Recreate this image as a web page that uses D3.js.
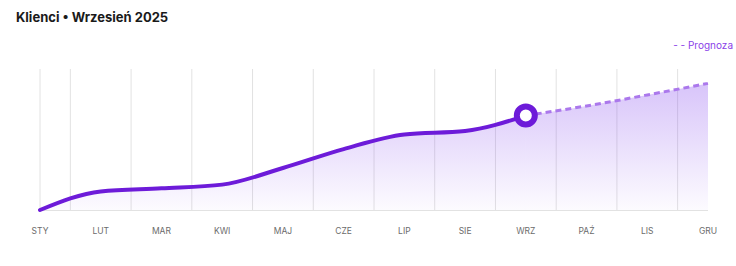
<!DOCTYPE html>
<html>
<head>
<meta charset="utf-8">
<script src="https://cdn.jsdelivr.net/npm/d3@7"></script>
<style>
  body { margin: 0; background: #fff; }
  svg { display: block; font-family: Inter, "Noto Sans", sans-serif; }
  .title { font-size: 13px; font-weight: 700; fill: #1a1a1a; }
  .month { font-size: 8.5px; fill: #6b6b6b; }
  .legend { font-size: 10px; fill: #8a3ee8; }
</style>
</head>
<body>
<div id="chart-area"></div>
<script>
// Months on the x axis
var months = ["STY", "LUT", "MAR", "KWI", "MAJ", "CZE", "LIP", "SIE", "WRZ", "PAŹ", "LIS", "GRU"];
// Actual clients (Jan - Sep)
var actual = [1000, 1066, 1077, 1090, 1149, 1216, 1268, 1280, 1335];
// Forecast (Sep - Dec), starts at the last actual value
var forecastMonths = ["WRZ", "PAŹ", "LIS", "GRU"];
var forecast = [1335, 1369, 1408, 1449];
var yDomain = [1000, 1500];

var width = 736, height = 266;
var margin = {top: 69, right: 28, bottom: 56, left: 40};
var innerW = width - margin.left - margin.right,
    innerH = height - margin.top - margin.bottom;

var svg = d3.select("#chart-area")
    .append("svg")
    .attr("width", width)
    .attr("height", height);

// Title
svg.append("text")
    .attr("class", "title")
    .attr("x", 16)
    .attr("y", 22)
    .text("Klienci • Wrzesień 2025");

// Legend
svg.append("text")
    .attr("class", "legend")
    .attr("x", 733)
    .attr("y", 49)
    .attr("text-anchor", "end")
    .text("- - Prognoza");

var g = svg.append("g")
    .attr("transform", "translate(" + margin.left + "," + margin.top + ")");

var x = d3.scalePoint()
    .domain(months)
    .range([0, innerW]);

var y = d3.scaleLinear()
    .domain(yDomain)
    .range([innerH, 0]);

var step = x.step();

// Gradient for area fill
var defs = svg.append("defs");
var grad = defs.append("linearGradient")
    .attr("id", "area-grad")
    .attr("gradientUnits", "userSpaceOnUse")
    .attr("x1", 0).attr("y1", 0)
    .attr("x2", 0).attr("y2", innerH);
grad.append("stop").attr("offset", "0%").attr("stop-color", "#7c3aed").attr("stop-opacity", 0.33);
grad.append("stop").attr("offset", "100%").attr("stop-color", "#7c3aed").attr("stop-opacity", 0.02);

// Vertical grid lines: left edge plus midpoints between months
var gridX = [0].concat(months.slice(0, -1).map(function(m) { return x(m) + step / 2; }));
g.selectAll(".grid")
    .data(gridX)
    .enter()
    .append("line")
    .attr("x1", function(d) { return d; })
    .attr("x2", function(d) { return d; })
    .attr("y1", 0)
    .attr("y2", innerH)
    .attr("stroke", "#e2e2e2")
    .attr("stroke-width", 1);

var actualData = actual.map(function(v, i) { return {m: months[i], v: v}; });
var forecastData = forecast.map(function(v, i) { return {m: forecastMonths[i], v: v}; });

var area = d3.area()
    .x(function(d) { return x(d.m); })
    .y0(innerH)
    .y1(function(d) { return y(d.v); })
    .curve(d3.curveMonotoneX);

var line = d3.line()
    .x(function(d) { return x(d.m); })
    .y(function(d) { return y(d.v); })
    .curve(d3.curveMonotoneX);

g.append("path")
    .datum(actualData)
    .attr("d", area)
    .attr("fill", "url(#area-grad)");

g.append("path")
    .datum(forecastData)
    .attr("d", area)
    .attr("fill", "url(#area-grad)");

// Baseline
g.append("line")
    .attr("x1", 0)
    .attr("x2", innerW)
    .attr("y1", innerH + 0.5)
    .attr("y2", innerH + 0.5)
    .attr("stroke", "#e2e2e2");

// Forecast dashed line
g.append("path")
    .datum(forecastData)
    .attr("d", line)
    .attr("fill", "none")
    .attr("stroke", "#ab78ec")
    .attr("stroke-width", 3)
    .attr("stroke-dasharray", "6,4");

// Actual line
g.append("path")
    .datum(actualData)
    .attr("d", line)
    .attr("fill", "none")
    .attr("stroke", "#6d1bd9")
    .attr("stroke-width", 4)
    .attr("stroke-linecap", "round");

// Current month marker
var last = actualData[actualData.length - 1];
g.append("circle")
    .attr("cx", x(last.m))
    .attr("cy", y(last.v))
    .attr("r", 9)
    .attr("fill", "#fff")
    .attr("stroke", "#6d1bd9")
    .attr("stroke-width", 6);

// Month labels
g.selectAll(".month")
    .data(months)
    .enter()
    .append("text")
    .attr("class", "month")
    .attr("x", function(d) { return x(d); })
    .attr("y", innerH + 24)
    .attr("text-anchor", "middle")
    .text(function(d) { return d; });
</script>
</body>
</html>
